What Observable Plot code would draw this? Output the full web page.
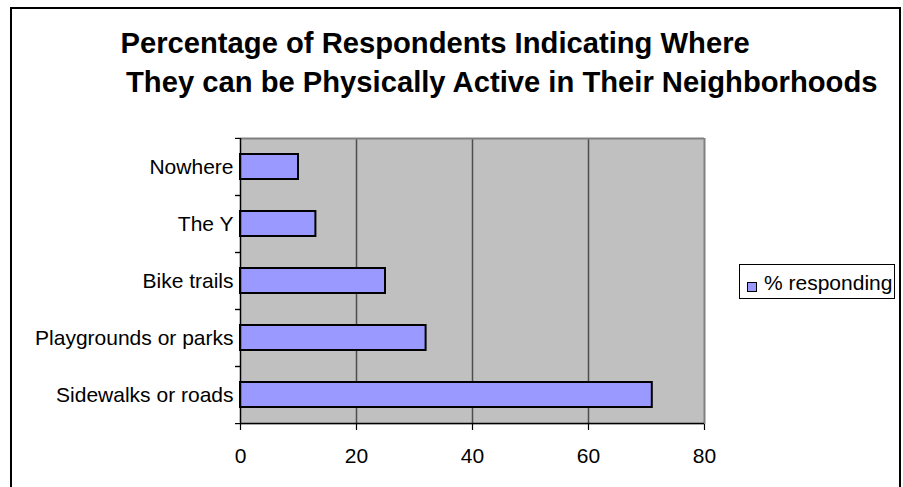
<!DOCTYPE html>
<html>
<head>
<meta charset="utf-8">
<script src="https://cdn.jsdelivr.net/npm/d3@7"></script>
<script src="https://cdn.jsdelivr.net/npm/@observablehq/plot@0.6"></script>
<style>
  body { margin: 0; background: #fff; }
  #wrap { position: relative; width: 903px; height: 487px; overflow: hidden; background: #fff;
          font-family: "Liberation Sans", Arial, sans-serif; color: #000; }
  #frame { position: absolute; left: 10px; top: 7px; width: 887px; height: 520px;
           border: 2px solid #000; pointer-events: none; }
  #title { position: relative; height: 120px; font-weight: bold; font-size: 29.2px; line-height: 39px; }
  #title div { position: absolute; white-space: nowrap; }
  #chart svg { display: block; }
  #legend { position: absolute; left: 739px; top: 264px; width: 154px; height: 33px;
            border: 1px solid #000; background: #fff; }
  #legend .sw { position: absolute; left: 7px; top: 17px; width: 8px; height: 8px; border: 1px solid #000; }
  #legend .lb { position: absolute; left: 24px; top: 7.2px; font-size: 21px; line-height: 21px; white-space: nowrap; }
</style>
</head>
<body>
<div id="wrap">
  <div id="title"></div>
  <div id="chart"></div>
  <div id="legend"></div>
  <div id="frame"></div>
</div>
<script>
// ---- data ----
const titleLines = ["Percentage of Respondents Indicating Where",
                    "They can be Physically Active in Their Neighborhoods"];
const categories = ["Nowhere", "The Y", "Bike trails", "Playgrounds or parks", "Sidewalks or roads"];
const values = [10, 13, 25, 32, 71];
const xTicks = [0, 20, 40, 60, 80];
const seriesName = "% responding";
const barColor = "#9999ff";

// ---- title ----
const title = document.getElementById("title");
const titlePos = [{left: 120.5, top: 24.4}, {left: 126, top: 63.4}];
titleLines.forEach((t, i) => {
  const d = document.createElement("div");
  d.textContent = t;
  d.style.left = titlePos[i].left + "px";
  d.style.top = titlePos[i].top + "px";
  title.appendChild(d);
});

// ---- chart ----
const data = categories.map((c, i) => ({category: c, value: values[i]}));
const H = 367, mT = 18, mB = 63;
const step = (H - mT - mB) / categories.length;

const chart = Plot.plot({
  width: 903,
  height: H,
  marginTop: mT,
  marginBottom: mB,
  marginLeft: 240,
  marginRight: 199,
  style: {fontFamily: "'Liberation Sans', Arial, sans-serif", fontSize: "21px", color: "#000", background: "transparent", overflow: "visible"},
  x: {domain: [xTicks[0], xTicks[xTicks.length - 1]]},
  y: {domain: categories, paddingInner: 0.56, paddingOuter: 0.28},
  marks: [
    Plot.frame({fill: "#c0c0c0", stroke: null}),
    Plot.gridX({ticks: xTicks.slice(1, -1), stroke: "#4d4d4d", strokeOpacity: 1, strokeWidth: 1.5}),
    Plot.ruleX([xTicks[xTicks.length - 1]], {stroke: "#808080", strokeWidth: 2}),
    Plot.ruleY([categories[0]], {dy: -step / 2, stroke: "#808080", strokeWidth: 2}),
    Plot.barX(data, {y: "category", x: "value", fill: barColor, stroke: "#000", strokeWidth: 2}),
    Plot.ruleX([xTicks[0]], {stroke: "#000", strokeWidth: 1.5}),
    Plot.ruleY([categories[categories.length - 1]], {dy: step / 2, stroke: "#000", strokeWidth: 1.5}),
    Plot.axisX({ticks: xTicks, tickSize: 6, tickPadding: 18, label: null, fontSize: 21, stroke: "#000", strokeWidth: 1.2}),
    Plot.axisY({tickSize: 0, tickPadding: 7, label: null, fontSize: 21}),
    Plot.axisY({tickSize: 5, text: null, dy: step / 2, label: null, stroke: "#000", strokeWidth: 1.2}),
    Plot.axisY({tickSize: 5, text: null, dy: -step / 2, label: null, stroke: "#000", strokeWidth: 1.2})
  ]
});
document.getElementById("chart").appendChild(chart);

// ---- legend ----
const legend = document.getElementById("legend");
const sw = document.createElement("span");
sw.className = "sw";
sw.style.background = barColor;
const lb = document.createElement("span");
lb.className = "lb";
lb.textContent = seriesName;
legend.appendChild(sw);
legend.appendChild(lb);
</script>
</body>
</html>
